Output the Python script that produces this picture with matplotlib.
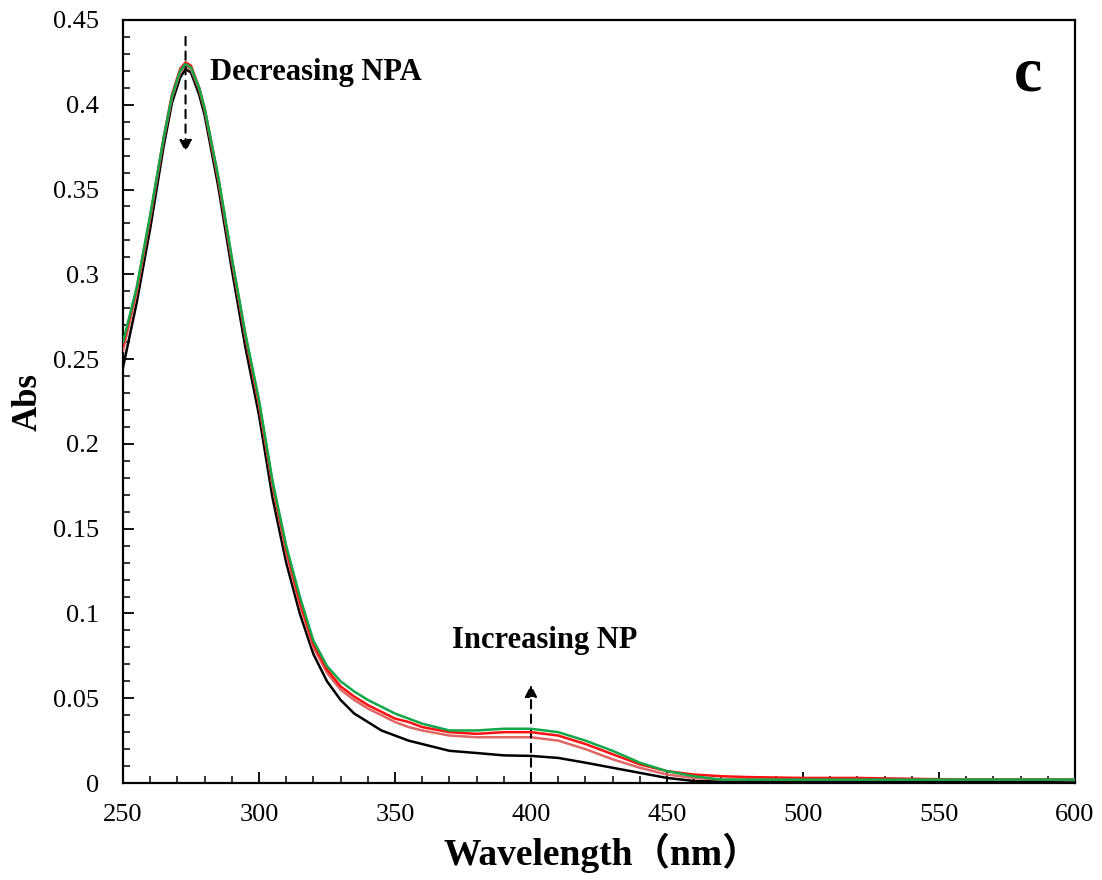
import matplotlib
matplotlib.use('Agg')
import matplotlib.pyplot as plt
from matplotlib.ticker import MultipleLocator, FuncFormatter

# wavelength grid (nm) and absorbance
wl = [250, 255, 260, 265, 268, 271, 273, 275, 278, 280, 285,
      290, 295, 300, 305, 310,
      315, 320, 325, 330, 335, 340, 345, 350,
      355, 360,
      370, 380, 390, 400, 410, 420, 430, 440, 450, 460, 470, 480,
      500, 520, 540, 560, 580, 600]

abs_black = [0.245, 0.283, 0.327, 0.376, 0.401, 0.416, 0.421, 0.419, 0.406, 0.394, 0.352,
             0.303, 0.257, 0.217, 0.168, 0.130,
             0.100, 0.076, 0.060, 0.049, 0.041, 0.036, 0.031, 0.028,
             0.025, 0.023,
             0.019, 0.0177, 0.0163, 0.016, 0.0148, 0.012, 0.009, 0.006, 0.003, 0.0012, 0.001, 0.001,
             0.0012, 0.001, 0.0012, 0.001, 0.0012, 0.0015]
abs_salmon = [0.255, 0.289, 0.333, 0.380, 0.404, 0.419, 0.423, 0.421, 0.409, 0.397, 0.356,
              0.308, 0.263, 0.223, 0.175, 0.136,
              0.105, 0.080, 0.065, 0.055, 0.049, 0.044, 0.040, 0.036,
              0.033, 0.031,
              0.028, 0.027, 0.027, 0.027, 0.025, 0.020, 0.014, 0.009, 0.005, 0.003, 0.002, 0.002,
              0.002, 0.002, 0.002, 0.002, 0.002, 0.002]
abs_red = [0.258, 0.291, 0.334, 0.381, 0.406, 0.421, 0.425, 0.423, 0.410, 0.398, 0.357,
           0.309, 0.264, 0.224, 0.176, 0.138,
           0.107, 0.082, 0.067, 0.057, 0.051, 0.046, 0.042, 0.038,
           0.036, 0.033,
           0.030, 0.029, 0.030, 0.030, 0.028, 0.023, 0.017, 0.011, 0.007, 0.005, 0.004, 0.0035,
           0.003, 0.003, 0.0025, 0.002, 0.002, 0.002]
abs_green = [0.260, 0.292, 0.335, 0.381, 0.405, 0.420, 0.424, 0.422, 0.410, 0.398, 0.358,
             0.310, 0.265, 0.226, 0.178, 0.140,
             0.110, 0.084, 0.069, 0.060, 0.054, 0.049, 0.045, 0.041,
             0.038, 0.035,
             0.031, 0.031, 0.032, 0.032, 0.030, 0.025, 0.019, 0.012, 0.007, 0.004, 0.002, 0.002,
             0.002, 0.002, 0.002, 0.002, 0.002, 0.002]

serif = ['Liberation Serif', 'DejaVu Serif']
plt.rcParams['font.family'] = serif

fig = plt.figure(figsize=(11.02, 8.8), dpi=100)
ax = fig.add_axes([0.1116, 0.1102, 0.8639, 0.8671])

ax.plot(wl, abs_black, color='black', lw=1.8, zorder=2)
ax.plot(wl, abs_salmon, color='#e06666', lw=1.8, zorder=3)
ax.plot(wl, abs_red, color='#ff1010', lw=1.8, zorder=4)
ax.plot(wl, abs_green, color='#12a84a', lw=1.8, zorder=5)

ax.set_xlim(250, 600)
ax.set_ylim(0, 0.45)
ax.xaxis.set_major_locator(MultipleLocator(50))
ax.xaxis.set_minor_locator(MultipleLocator(10))
ax.yaxis.set_major_locator(MultipleLocator(0.05))
ax.yaxis.set_minor_locator(MultipleLocator(0.01))
ax.yaxis.set_major_formatter(FuncFormatter(lambda v, p: f'{round(v, 2):g}'))
ax.tick_params(which='major', direction='in', length=8, width=1.3, labelsize=19)
ax.tick_params(axis='y', which='major', pad=17)
ax.tick_params(axis='x', which='major', pad=15)
ax.tick_params(which='minor', direction='in', length=5, width=1.1)
for s in ax.spines.values():
    s.set_linewidth(1.6)

ax.set_ylabel('Abs', fontsize=25, fontweight='bold', labelpad=6)
ax.set_xlabel('Wavelength（nm）', fontsize=27, fontweight='bold', labelpad=1,
              family=['Liberation Serif', 'Noto Sans CJK SC'])
ax.xaxis.set_label_coords(0.503, -0.065)

# arrows
ax.annotate('', xy=(273, 0.372), xytext=(273, 0.440),
            arrowprops=dict(arrowstyle='-|>', ls=(0, (4, 3)), lw=1.5, color='black',
                            mutation_scale=18, shrinkA=0, shrinkB=0))
ax.annotate('', xy=(400, 0.058), xytext=(400, 0.001),
            arrowprops=dict(arrowstyle='-|>', ls=(0, (4, 3)), lw=1.5, color='black',
                            mutation_scale=18, shrinkA=0, shrinkB=0))

ax.text(282, 0.419, 'Decreasing NPA', fontsize=22, fontweight='bold', va='center')
ax.text(371, 0.0843, 'Increasing NP', fontsize=22, fontweight='bold', va='center')
ax.text(588, 0.4175, 'c', fontsize=46, fontweight='bold', ha='right', va='center')

fig.savefig('out.png', dpi=100)
